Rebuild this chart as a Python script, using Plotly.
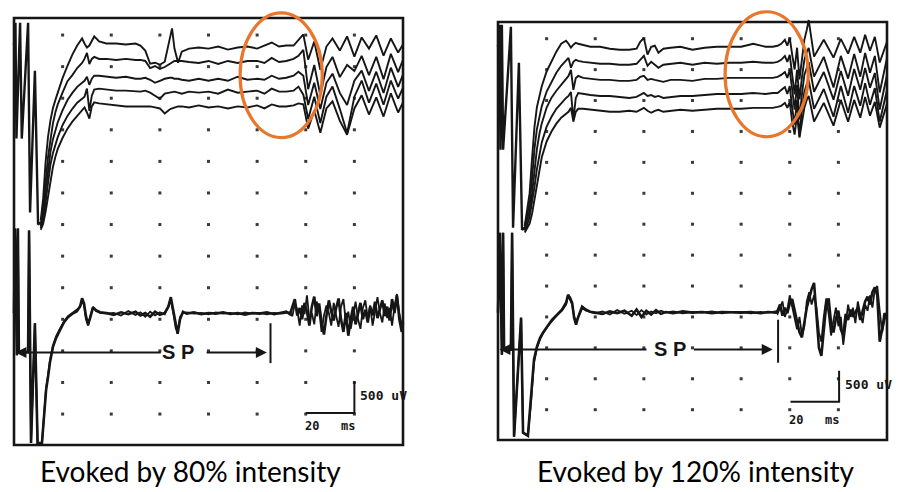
import plotly.graph_objects as go

W, H = 907, 492

# ---------------- data (time in ms, amplitude in uV) ----------------
DOT_TIMES = [20, 40, 60, 80, 100, 120, 140]
DOT_LEVELS = [0, 500, 1000, 1500, 2000, 2500, 3000, 3500, 4000, 4500, 5000, 5500, 6000]

# ---- left panel (80% intensity): five stacked sweeps ----
UP_T_L = [11, 12, 13, 14, 15, 16, 17, 18, 20, 22,
          24, 26, 28, 29, 30, 31, 32, 33, 35, 38,
          42, 46, 50, 52, 54, 56, 58, 60, 62, 64,
          65, 66, 67.5, 69, 72, 76, 80, 84, 88, 92,
          96, 100, 103, 106, 109, 112, 115,
          117, 119, 121, 123.5, 126, 128.5, 131, 134, 137, 140,
          143, 146, 149, 152, 155, 158, 160]
UP_BASE_L = [5850, 5590, 5340, 5120, 4870]
L1 = [-2784, -2432, -1856, -1456, -1200, -1008, -880, -752, -528, -336,
      -160, -16, 96, 16, -48, -16, 64, 128, 48, 16,
      16, 0, 16, -16, -96, -304, -288, -320, -272, 64,
      256, -64, -288, -112, -64, -48, -64, -32, -80, -48,
      -32, -64, -16, 32, -32, -16, -16,
      64, 160, -240, 48, -400, -32, 96, -96, 128, -192,
      112, -64, 144, -176, 96, -128, 0]
L2 = [-2592, -2320, -1920, -1520, -1248, -992, -816, -688, -496, -320,
      -224, -112, -32, 32, 128, -48, 32, 64, 32, 32,
      16, 32, 16, 16, 0, -112, -80, -128, -96, -48,
      -16, 0, 0, 0, -16, -32, 0, -48, 0, -32,
      0, 0, -32, 48, -16, 0, 32,
      80, 176, -448, -64, -544, -96, 64, -256, -64, -160,
      80, -224, 64, -288, 112, -176, 16]
L3 = [-2368, -2176, -1824, -1472, -1184, -992, -832, -720, -528, -368,
      -256, -160, -96, -64, 0, -128, -32, 16, 16, 0,
      -16, 0, -32, -32, -16, -48, -96, -64, -32, -16,
      -16, -32, -32, -48, -64, -32, -64, -32, -64, 0,
      -48, -32, -48, 16, -32, -16, 16,
      80, 16, -448, -96, -512, -96, 48, -256, -448, -64,
      96, -224, 80, -256, 144, -160, 32]
L4 = [-2176, -2048, -1760, -1440, -1168, -992, -848, -736, -544, -400,
      -288, -192, -128, -96, 32, -320, -80, 16, 32, 16,
      0, 0, -16, -16, 0, -32, -80, -128, -48, -32,
      -16, -16, -32, -48, -16, -32, -16, -48, 16, -32,
      -16, 0, -48, 32, -16, -16, 0,
      64, -64, -448, -96, -512, -96, 64, -288, -672, -96,
      160, -192, 112, -224, 160, -128, 48]
L5 = [-1952, -1856, -1664, -1440, -1152, -960, -800, -672, -496, -352,
      -240, -144, -64, -16, -96, -192, 0, 64, 48, 32,
      16, 0, 0, 0, 0, 0, -16, -32, -112, -48,
      -32, -16, 0, 0, -16, 16, -16, 0, -32, 0,
      -16, 16, -32, 32, 0, 0, 16,
      48, 32, -352, -64, -416, -32, 80, -224, -448, -32,
      176, -128, 144, -160, 208, -96, 64]
ART_T_L = [0, 0.6, 1.0, 2.5, 3.2, 5.8, 6.6, 8.6, 9.9, 11]
ART_V_L = [5846, 6194, 4361, 6194, 4361, 6194, 3192, 5435, 3002, 3034]

LOW_T_L = [0, 0.4, 1.2, 1.6, 2.0, 5.8, 6.2, 7.0, 8.6, 9.7,
           11.5, 12.3, 13.2, 14.0, 14.8, 16.0, 17.3, 18.9, 20.6, 22.2,
           24.3, 25.9, 27.2, 28.0, 28.8, 29.6, 30.5, 31.3, 32.5, 33.7,
           35.4, 38, 41, 44, 47, 50, 52, 54, 56, 58,
           60, 62, 63.5, 64.5, 65.5, 66.5, 67.3, 68.3, 69.5, 71,
           74, 77, 80, 83, 86, 89, 92, 95, 98, 101,
           104, 107, 110, 112, 113.5,
           114.5, 115.5, 116.5, 117.5, 118.5, 119.5, 120.5, 121.5, 122.5, 123.5,
           124.5, 125.5, 126.5, 127.5, 128.5, 129.5, 130.5, 131.5, 132.5, 133.5,
           134.5, 135.5, 136.5, 137.5, 138.5, 139.5, 140.5, 141.5, 142.5, 143.5,
           144.5, 145.5, 146.5, 147.5, 148.5, 149.5, 150.5, 151.5, 152.5, 153.5,
           154.5, 155.5, 156.5, 157.5, 158.5, 159.5, 160]
LOW_A_L = [1600, 2939, 932, 2939, 980, 980, 2907, -458, 1438, -458,
           -458, -95, 379, 585, 822, 1059, 1201, 1327, 1454, 1533,
           1596, 1627, 1706, 1833, 1754, 1549, 1422, 1517, 1690, 1643,
           1612, 1600, 1570, 1610, 1580, 1620, 1560, 1600, 1540, 1620,
           1570, 1600, 1700, 1850, 1640, 1400, 1270, 1500, 1620, 1590,
           1610, 1580, 1600, 1590, 1610, 1585, 1600, 1575, 1600, 1590,
           1610, 1580, 1600, 1620, 1580,
           1700, 1820, 1560, 1680, 1500, 1760, 1620, 1400, 1700, 1860,
           1550, 1750, 1450, 1260, 1550, 1800, 1620, 1480, 1680, 1830,
           1500, 1300, 1600, 1240, 1500, 1700, 1420, 1620, 1760, 1500,
           1650, 1450, 1700, 1560, 1780, 1520, 1680, 1800, 1550, 1700,
           1480, 1820, 1600, 1880, 1500, 1300, 1450]
LOW_B_L = [1600, 2939, 932, 2939, 980, 980, 2907, -458, 1438, -458,
           -458, -60, 420, 620, 850, 1080, 1230, 1350, 1470, 1550,
           1610, 1650, 1690, 1800, 1720, 1500, 1400, 1540, 1700, 1630,
           1600, 1590, 1600, 1560, 1630, 1570, 1610, 1540, 1620, 1560,
           1610, 1580, 1720, 1800, 1600, 1360, 1300, 1540, 1600, 1610,
           1590, 1600, 1580, 1610, 1590, 1600, 1580, 1610, 1590, 1600,
           1580, 1600, 1590, 1600, 1610,
           1550, 1750, 1650, 1400, 1720, 1580, 1880, 1500, 1600, 1420,
           1780, 1650, 1300, 1560, 1720, 1600, 1400, 1760, 1560, 1380,
           1700, 1820, 1450, 1620, 1350, 1600, 1780, 1500, 1350, 1680,
           1800, 1520, 1720, 1400, 1600, 1850, 1600, 1450, 1750, 1520,
           1680, 1400, 1700, 1900, 1600, 1400, 1500]

# ---- right panel (120% intensity) ----
UP_T_R = [11, 12, 13, 14, 15, 16, 17, 18, 20, 22,
          24, 26, 28, 29, 30, 31, 32, 33, 35, 38,
          42, 46, 50, 54, 57, 58.5, 60, 61.5, 63, 64.5,
          66, 68, 71, 75, 80, 85, 90, 95, 100, 105,
          110, 113, 115, 116.5, 118, 119, 120, 121, 122, 123,
          124, 125, 126, 127,
          127.8, 130, 134, 138, 141, 144, 146.5, 149, 151, 153,
          155, 157, 160]
UP_BASE_R = [5870, 5610, 5350, 5090, 4850]
R1 = [-2896, -2640, -2368, -1808, -1296, -976, -784, -640, -400, -240,
      -80, 48, 96, 48, -16, 32, 64, 48, 32, 0,
      0, -32, -48, -48, -32, 80, 144, -128, 0, 16,
      -96, -32, -16, 0, -48, -16, 0, 0, 0, 48,
      0, 0, 16, 48, 112, 16, 144, -128, -368, -16,
      -528, -208, 112, 272,
      432, -160, 112, -176, 128, -112, 160, -96, 192, -64,
      160, -256, 80]
R2 = [-2640, -2480, -2272, -1872, -1392, -1072, -864, -704, -464, -304,
      -160, -48, 48, 80, -80, 16, 48, 32, 16, 0,
      -16, -16, -32, -32, -16, 48, 112, -48, 16, -32,
      -80, -32, -16, 0, -32, 0, -16, 0, 0, 16,
      0, 0, 16, 48, 112, 16, 128, -192, -512, -112,
      -592, -240, 48, 176,
      240, -224, 96, -400, 112, -256, 144, -224, 160, -160,
      112, -480, 80]
R3 = [-2416, -2288, -2128, -1856, -1456, -1136, -896, -720, -464, -304,
      -192, -96, -16, 48, 144, -176, 16, 48, 16, 0,
      -16, -16, -32, -32, -16, 32, 48, -16, 0, -16,
      -32, -48, -16, -16, -32, 0, 0, 16, 16, 16,
      16, 16, 32, 64, 112, 16, 144, -208, -496, -96,
      -656, -256, 64, 176,
      272, -208, 112, -336, 128, -272, 160, -176, 176, -144,
      96, -496, 64]
R4 = [-2192, -2096, -1968, -1760, -1488, -1200, -960, -768, -512, -352,
      -224, -128, -48, -16, 48, -400, -48, 32, 16, 0,
      -16, -16, -32, -48, -32, 0, 32, -16, 0, -32,
      -16, -48, -32, -16, -16, 0, 16, 16, 16, 32,
      16, 32, 32, 80, 128, 16, 144, -208, -480, -80,
      -672, -240, 48, 176,
      240, -224, 96, -352, 144, -288, 144, -176, 192, -160,
      112, -432, 80]
R5 = [-1984, -1920, -1840, -1680, -1440, -1200, -960, -768, -512, -352,
      -224, -128, -64, -32, 32, -192, -32, 16, 16, 0,
      -16, -32, -32, -16, -32, 0, 32, -16, -48, -16,
      0, -32, -16, 0, -16, 0, 16, 16, 16, 32,
      32, 32, 48, 64, 112, 32, 128, -192, -400, -80,
      -448, -224, 32, 160,
      224, -192, 112, -256, 160, -192, 160, -128, 208, -96,
      128, -288, 96]
ART_T_R = [0, 0.6, 1.0, 1.6, 2.1, 5.3, 6.2, 8.6, 9.9, 11]
ART_V_R = [5870, 6225, 4204, 6225, 4204, 6193, 2943, 5611, 2911, 2943]

LOW_T_R = [0, 0.8, 1.6, 2.1, 2.5, 5.3, 5.8, 6.6, 9.5, 10.3,
           12.3, 13.6, 14.8, 16.0, 17.3, 18.5, 20.6, 22.2, 24.3, 26.3,
           28.0, 28.8, 29.6, 30.5, 31.3, 32.1, 32.9, 34.6, 36.2, 37.9,
           40, 43, 46, 49, 52, 55, 57, 59, 61, 63,
           65, 67, 69, 72, 76, 80, 84, 88, 92, 96,
           100, 104, 108, 111, 114,
           115, 116, 117, 118, 119, 120, 121, 122, 123, 124,
           125, 126, 127, 128, 129, 130, 131, 132, 133, 134,
           135, 136, 137, 138, 139, 140, 141, 142, 143, 144,
           145, 146, 147, 148, 149, 150, 151, 152, 153, 154,
           155, 156, 157, 158, 159, 160]
LOW_A_R = [1570, 2862, 889, 2862, 970, 970, 2862, -437, 1488, -372,
           -420, 162, 809, 1019, 1164, 1245, 1374, 1455, 1536, 1617,
           1730, 1860, 1811, 1730, 1488, 1374, 1488, 1666, 1617, 1585,
           1570, 1550, 1590, 1560, 1600, 1520, 1620, 1500, 1600, 1540,
           1610, 1550, 1580, 1560, 1590, 1570, 1580, 1560, 1580, 1570,
           1570, 1580, 1560, 1580, 1570,
           1600, 1700, 1520, 1650, 1560, 1720, 1790, 1600, 1400, 1250,
           1170, 1450, 1650, 1800, 1950, 2050, 1500, 1000, 870, 1350,
           1700, 1800, 1400, 1250, 1480, 1600, 1300, 1200, 1550, 1450,
           1620, 1500, 1580, 1650, 1450, 1600, 1750, 1830, 1700, 1900,
           1980, 1850, 1100, 1300, 1560, 1500]
LOW_B_R = [1570, 2862, 889, 2862, 970, 970, 2862, -437, 1488, -372,
           -420, 120, 760, 990, 1140, 1230, 1360, 1440, 1530, 1600,
           1700, 1830, 1780, 1700, 1510, 1420, 1500, 1640, 1600, 1580,
           1560, 1590, 1540, 1610, 1550, 1600, 1530, 1610, 1540, 1590,
           1560, 1600, 1570, 1590, 1560, 1580, 1570, 1590, 1560, 1580,
           1580, 1560, 1580, 1570, 1590,
           1550, 1650, 1750, 1500, 1620, 1850, 1650, 1450, 1300, 1500,
           1200, 1350, 1750, 1900, 1700, 1850, 1650, 1250, 1100, 1500,
           1800, 1550, 1200, 1450, 1650, 1350, 1500, 1050, 1400, 1700,
           1500, 1650, 1400, 1750, 1550, 1400, 1700, 1600, 1850, 1650,
           1950, 2000, 1600, 1250, 1450, 1550]

# silent-period markers (ms) and calibration
SP_LEVEL = 975
SP_L = dict(start=61.0, text=67.5, resume=78.6, tip=104.0, end=105.5, tick=(806, 1438))
SP_R = dict(start=61.7, text=70.8, resume=80.0, tip=113.0, end=115.2, tick=(760, 1455))
CAL_MS, CAL_UV = 20, 500
CAL_L = (140.0, 16)
CAL_R = (140.3, 129)
HIGHLIGHT_L = (93.0, 126.8, 4377, 6352)
HIGHLIGHT_R = (93.4, 127.6, 4414, 6436)
CAPTIONS = ["Evoked by 80% intensity", "Evoked by 120% intensity"]

# ---------------- layout helpers ----------------
BOX_DATA = (0, 160, 6270, -490)


def panel_axes(box_px, area_px):
    bx0, bx1, byt, byb = box_px
    t0, t1, vt, vb = BOX_DATA
    sx = (bx1 - bx0) / (t1 - t0)
    sy = (byb - byt) / (vt - vb)
    ax0, ax1, ayt, ayb = area_px
    xr = [t0 - (bx0 - ax0) / sx, t1 + (ax1 - bx1) / sx]
    yr = [vb - (ayb - byb) / sy, vt + (byt - ayt) / sy]
    return xr, yr, [ax0 / W, ax1 / W], [1 - ayb / H, 1 - ayt / H]


fig = go.Figure()
INK = "#161616"
ORANGE = "#E8762C"

panels = [
    dict(xa="x", ya="y", box=(14, 403, 18, 445), area=(2, 452, 2, 456),
         upt=UP_T_L, base=UP_BASE_L, devs=[L1, L2, L3, L4, L5],
         art=(ART_T_L, ART_V_L), lowt=LOW_T_L, lows=[LOW_A_L, LOW_B_L],
         sp=SP_L, cal=CAL_L, msoff=210, hl=HIGHLIGHT_L, cap=CAPTIONS[0], capx=190),
    dict(xa="x2", ya="y2", box=(498, 887, 22, 440), area=(455, 905, 2, 456),
         upt=UP_T_R, base=UP_BASE_R, devs=[R1, R2, R3, R4, R5],
         art=(ART_T_R, ART_V_R), lowt=LOW_T_R, lows=[LOW_A_R, LOW_B_R],
         sp=SP_R, cal=CAL_R, msoff=300, hl=HIGHLIGHT_R, cap=CAPTIONS[1], capx=695),
]

shapes, annotations = [], []
for i, p in enumerate(panels):
    xr, yr, xd, yd = panel_axes(p["box"], p["area"])
    sfx = "" if i == 0 else "2"
    fig.layout["xaxis" + sfx] = dict(range=xr, domain=xd, visible=False, fixedrange=True,
                                     anchor=p["ya"])
    fig.layout["yaxis" + sfx] = dict(range=yr, domain=yd, visible=False, fixedrange=True,
                                     anchor=p["xa"])
    xa, ya = p["xa"], p["ya"]

    # dot grid
    fig.add_trace(go.Scatter(
        x=[t for t in DOT_TIMES for _ in DOT_LEVELS],
        y=[v for _ in DOT_TIMES for v in DOT_LEVELS],
        mode="markers", marker=dict(symbol="square", size=3, color="#3a3a3a"),
        xaxis=xa, yaxis=ya, hoverinfo="skip", showlegend=False))

    # stimulus artifact of the stacked sweeps
    fig.add_trace(go.Scatter(x=p["art"][0], y=p["art"][1], mode="lines",
                             line=dict(color=INK, width=2.4), xaxis=xa, yaxis=ya,
                             hoverinfo="skip", showlegend=False))
    # stacked sweeps
    for b, dev in zip(p["base"], p["devs"]):
        fig.add_trace(go.Scatter(x=p["upt"], y=[b + d for d in dev], mode="lines",
                                 line=dict(color=INK, width=1.9), xaxis=xa, yaxis=ya,
                                 hoverinfo="skip", showlegend=False))
    # superimposed sweeps (silent period)
    for k, vals in enumerate(p["lows"]):
        fig.add_trace(go.Scatter(x=p["lowt"], y=vals, mode="lines",
                                 line=dict(color=INK, width=2.6 if k == 0 else 1.8),
                                 xaxis=xa, yaxis=ya, hoverinfo="skip", showlegend=False))

    sp = p["sp"]
    fig.add_trace(go.Scatter(x=[sp["end"], sp["end"]], y=list(sp["tick"]), mode="lines",
                             line=dict(color=INK, width=2), xaxis=xa, yaxis=ya,
                             hoverinfo="skip", showlegend=False))
    ct, cv = p["cal"]
    fig.add_trace(go.Scatter(x=[ct - CAL_MS, ct, ct], y=[cv, cv, cv + CAL_UV], mode="lines",
                             line=dict(color=INK, width=2), xaxis=xa, yaxis=ya,
                             hoverinfo="skip", showlegend=False))

    shapes.append(dict(type="rect", xref=xa, yref=ya, x0=BOX_DATA[0], x1=BOX_DATA[1],
                       y0=BOX_DATA[3], y1=BOX_DATA[2], line=dict(color=INK, width=2.6)))
    h = p["hl"]
    shapes.append(dict(type="circle", xref=xa, yref=ya, x0=h[0], x1=h[1], y0=h[2], y1=h[3],
                       line=dict(color=ORANGE, width=3.2), layer="above"))

    annotations.append(dict(xref=xa, yref=ya, axref=xa, ayref=ya, x=0.6, y=SP_LEVEL,
                            ax=sp["start"], ay=SP_LEVEL, text="", showarrow=True,
                            arrowhead=2, arrowsize=1.1, arrowwidth=2, arrowcolor=INK))
    annotations.append(dict(xref=xa, yref=ya, axref=xa, ayref=ya, x=sp["tip"], y=SP_LEVEL,
                            ax=sp["resume"], ay=SP_LEVEL, text="", showarrow=True,
                            arrowhead=2, arrowsize=1.1, arrowwidth=2, arrowcolor=INK))
    annotations.append(dict(xref=xa, yref=ya, x=sp["text"], y=SP_LEVEL, text="<b>S P</b>",
                            showarrow=False, xanchor="center", yanchor="middle",
                            font=dict(family="Liberation Sans", size=20, color=INK)))
    annotations.append(dict(xref=xa, yref=ya, x=ct + 1.5, y=cv + CAL_UV * 0.55,
                            text="<b>500\u00a0uV</b>", showarrow=False, xanchor="left",
                            yanchor="middle",
                            font=dict(family="DejaVu Sans Mono", size=13, color=INK)))
    annotations.append(dict(xref=xa, yref=ya, x=ct - CAL_MS / 2, y=cv - p["msoff"],
                            text="<b>20\u00a0\u00a0\u00a0ms</b>", showarrow=False,
                            xanchor="center", yanchor="middle",
                            font=dict(family="DejaVu Sans Mono", size=12, color=INK)))
    annotations.append(dict(xref="paper", yref="paper", x=p["capx"] / W, y=1 - 471 / H,
                            text=p["cap"], showarrow=False, xanchor="center",
                            yanchor="middle",
                            font=dict(family="Lato", size=28, color="black")))

fig.update_layout(width=W, height=H, margin=dict(l=0, r=0, t=0, b=0),
                  paper_bgcolor="white", plot_bgcolor="rgba(0,0,0,0)",
                  shapes=shapes, annotations=annotations, showlegend=False)

fig.write_html("out.html", config={"displayModeBar": False},
               post_script="document.body.style.margin='0';document.body.style.overflow='hidden';")
